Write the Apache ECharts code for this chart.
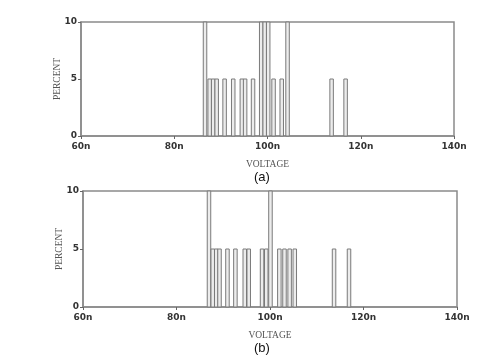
<!DOCTYPE html>
<html>
<head>
<meta charset="utf-8">
<script src="https://cdn.jsdelivr.net/npm/echarts@6/dist/echarts.min.js"></script>
<style>html,body{margin:0;padding:0;background:#fff;}#c{width:496px;height:362px;}</style>
</head>
<body>
<div id="c"></div>
<script>
// Data (voltage in n, percent)
const voltsA = [86.6, 87.6, 88.35, 89.1, 90.8, 92.65, 94.5, 95.2, 96.9, 98.65, 99.4, 100.15, 101.3, 103.05, 104.3, 113.75, 116.75];
const pctA   = [10, 5, 5, 5, 5, 5, 5, 5, 5, 10, 10, 10, 5, 5, 10, 5, 5];
const voltsB = [86.95, 87.75, 88.5, 89.2, 90.9, 92.6, 94.6, 95.45, 98.3, 99.2, 100.1, 102.0, 103.1, 104.2, 105.3, 113.7, 116.9];
const pctB   = [10, 5, 5, 5, 5, 5, 5, 5, 5, 5, 10, 5, 5, 5, 5, 5, 5];
const xTicks = [60, 80, 100, 120, 140];
const yTicks = [0, 5, 10];
const xName = 'VOLTAGE';
const yName = 'PERCENT';
const panelLabels = ['(a)', '(b)'];

const BAR_W = 0.75; // bar width in voltage units
const frameColor = '#8a8a8a';

function series(idx, volts, pcts) {
  return {
    type: 'custom',
    xAxisIndex: idx, yAxisIndex: idx,
    data: volts.map((v, i) => [v, pcts[i]]),
    renderItem: function (params, api) {
      const v = api.value(0), h = api.value(1);
      const p0 = api.coord([v - BAR_W / 2, 0]);
      const p1 = api.coord([v + BAR_W / 2, h]);
      return {
        type: 'rect',
        shape: { x: p0[0], y: p1[1], width: p1[0] - p0[0], height: p0[1] - p1[1] },
        style: { fill: '#ececec', stroke: '#7a7a7a', lineWidth: 1 }
      };
    }
  };
}

function xAxis(idx) {
  return {
    type: 'value', gridIndex: idx, min: xTicks[0], max: xTicks[xTicks.length - 1], interval: 20,
    name: xName, nameLocation: 'middle', nameGap: 23, nameMoveOverlap: false,
    nameTextStyle: { fontFamily: 'Liberation Serif', fontSize: 9.5, color: '#555' },
    axisLine: { show: true, lineStyle: { color: frameColor, width: 1.5 } },
    axisTick: { show: true, length: 3, inside: false, lineStyle: { color: '#666' } },
    splitLine: { show: false },
    axisLabel: { formatter: v => v + 'n', fontFamily: 'DejaVu Sans', fontWeight: 'bold', fontSize: 9, color: '#333', margin: 6 }
  };
}
function yAxis(idx) {
  return {
    type: 'value', gridIndex: idx, min: yTicks[0], max: yTicks[yTicks.length - 1], interval: 5,
    name: yName, nameLocation: 'middle', nameGap: 19, nameRotate: 90, nameMoveOverlap: false,
    nameTextStyle: { fontFamily: 'Liberation Serif', fontSize: 9.5, color: '#555' },
    axisLine: { show: true, lineStyle: { color: frameColor, width: 1.5 } },
    axisTick: { show: true, length: 3, lineStyle: { color: '#666' } },
    splitLine: { show: false },
    axisLabel: { fontFamily: 'DejaVu Sans', fontWeight: 'bold', fontSize: 9, color: '#333', margin: 4 }
  };
}

const chart = echarts.init(document.getElementById('c'), null, { renderer: 'canvas' });
chart.setOption({
  animation: false,
  backgroundColor: '#fff',
  grid: [
    { left: 81, top: 22, width: 373, height: 114, show: true, borderColor: frameColor, borderWidth: 1.5, backgroundColor: 'transparent' },
    { left: 83, top: 191, width: 374, height: 116, show: true, borderColor: frameColor, borderWidth: 1.5, backgroundColor: 'transparent' }
  ],
  xAxis: [xAxis(0), xAxis(1)],
  yAxis: [yAxis(0), yAxis(1)],
  series: [series(0, voltsA, pctA), series(1, voltsB, pctB)],
  graphic: [
    { type: 'text', left: 254, top: 171, style: { text: panelLabels[0], fontFamily: 'Liberation Sans', fontSize: 13, fill: '#111' } },
    { type: 'text', left: 254, top: 342, style: { text: panelLabels[1], fontFamily: 'Liberation Sans', fontSize: 13, fill: '#111' } }
  ]
});
</script>
</body>
</html>
